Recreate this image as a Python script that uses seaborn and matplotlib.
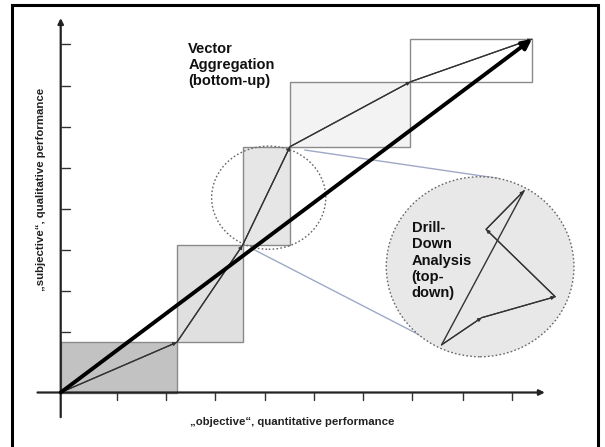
import matplotlib
matplotlib.use("Agg")
import matplotlib.pyplot as plt
from matplotlib.patches import Rectangle, Ellipse
import pandas as pd
import seaborn as sns

# Vector path (bottom-up aggregation), in axis tick units
path_x = [0.0, 2.35, 3.68, 4.64, 7.08, 9.54]
path_y = [0.0, 1.22, 3.58, 5.98, 7.56, 8.60]
box_fills = ["#c2c2c2", "#e0e0e0", "#e6e6e6", "#f3f3f3", "#ffffff"]

# Drill-down inset path
drill_x = [7.71, 8.52, 10.01, 8.61, 9.38]
drill_y = [1.16, 1.82, 2.33, 3.97, 4.91]

x_ticks = [1.13, 2.13, 3.13, 4.13, 5.13, 6.12, 7.12, 8.14, 9.14]
y_ticks = [1.47, 2.47, 3.47, 4.46, 5.47, 6.46, 7.45, 8.47]

sns.set_theme(style="white")
plt.rcParams["font.family"] = ["Liberation Sans", "DejaVu Sans"]

fig = plt.figure(figsize=(6.05, 4.47), dpi=100)
ax = fig.add_axes([0, 0, 1, 1])
ax.set_xlim(-1.229, 11.018)
ax.set_ylim(-1.326, 9.55)
ax.axis("off")

# outer frame
fig.patches.append(Rectangle((0.0195, -0.05), 0.969, 1.039, transform=fig.transFigure,
                             fill=False, edgecolor="black", linewidth=2.2, zorder=10))

# boxes spanned by each partial vector
for i in range(len(path_x) - 1):
    ax.add_patch(Rectangle((path_x[i], path_y[i]), path_x[i + 1] - path_x[i],
                           path_y[i + 1] - path_y[i], facecolor=box_fills[i],
                           edgecolor="#8a8a8a", linewidth=1.0, zorder=1))

# axes with arrows
ax.annotate("", xy=(9.80, 0), xytext=(-0.47, 0),
            arrowprops=dict(arrowstyle="-|>", color="#222222", lw=1.6,
                            mutation_scale=8, shrinkA=0, shrinkB=0), zorder=2)
ax.annotate("", xy=(0, 9.11), xytext=(0, -0.60),
            arrowprops=dict(arrowstyle="-|>", color="#222222", lw=1.6,
                            mutation_scale=8, shrinkA=0, shrinkB=0), zorder=2)
for t in x_ticks:
    ax.plot([t, t], [0, -0.18], color="#333333", lw=1.0, zorder=2)
for t in y_ticks:
    ax.plot([0, 0.18], [t, t], color="#333333", lw=1.0, zorder=2)

# zoom connector lines and circles
ax.plot([4.94, 8.86], [5.90, 5.21], color="#9fa8c6", lw=1.0, zorder=2)
ax.plot([3.89, 7.73], [3.49, 1.11], color="#9fa8c6", lw=1.0, zorder=2)
ax.add_patch(Ellipse((4.21, 4.74), 2.31, 2.51, fill=False, edgecolor="#666666",
                     linestyle=(0, (1.2, 1.6)), linewidth=1.0, zorder=3))
ax.add_patch(Ellipse((8.49, 3.06), 3.80, 4.38, facecolor="#e8e8e8", edgecolor="#666666",
                     linestyle=(0, (1.2, 1.6)), linewidth=1.0, zorder=2))

# thin partial vectors
path_df = pd.DataFrame({"x": path_x, "y": path_y})
sns.lineplot(data=path_df, x="x", y="y", sort=False, color="#333333",
             linewidth=0.9, ax=ax, zorder=4)
for i in range(1, len(path_x)):
    ax.annotate("", xy=(path_x[i], path_y[i]), xytext=(path_x[i - 1], path_y[i - 1]),
                arrowprops=dict(arrowstyle="-|>", color="#333333", lw=0.9,
                                mutation_scale=5, shrinkA=0, shrinkB=0), zorder=4)

# thick aggregated vector
ax.annotate("", xy=(path_x[-1], path_y[-1]), xytext=(path_x[0], path_y[0]),
            arrowprops=dict(arrowstyle="-|>", color="black", lw=2.8,
                            mutation_scale=14, shrinkA=0, shrinkB=0), zorder=5)

# drill-down vectors
drill_df = pd.DataFrame({"x": drill_x, "y": drill_y})
sns.lineplot(data=drill_df, x="x", y="y", sort=False, color="#333333",
             linewidth=0.9, ax=ax, zorder=4)
for i in range(1, len(drill_x)):
    ax.annotate("", xy=(drill_x[i], drill_y[i]), xytext=(drill_x[i - 1], drill_y[i - 1]),
                arrowprops=dict(arrowstyle="-|>", color="#333333", lw=0.9,
                                mutation_scale=5, shrinkA=0, shrinkB=0), zorder=4)
ax.plot([drill_x[0], drill_x[-1]], [drill_y[0], drill_y[-1]], color="#333333",
        lw=1.0, zorder=4)

# texts
ax.text(2.58, 7.97, "Vector\nAggregation\n(bottom-up)", fontsize=10.5, fontweight="bold",
        ha="left", va="center", linespacing=1.15, color="#111111", zorder=6)
ax.text(7.105, 3.21, "Drill-\nDown\nAnalysis\n(top-\ndown)", fontsize=10.5,
        fontweight="bold", ha="left", va="center", linespacing=1.2, color="#111111", zorder=6)
ax.text(4.68, -0.71, "\u201eobjective\u201c, quantitative performance", fontsize=8.2,
        fontweight="bold", ha="center", va="center", color="#222222")
ax.text(-0.39, 4.93, "\u201esubjective\u201c, qualitative performance", fontsize=8.2,
        fontweight="bold", ha="center", va="center", rotation=90, color="#222222")

fig.savefig("out.png", dpi=100)
plt.close(fig)
